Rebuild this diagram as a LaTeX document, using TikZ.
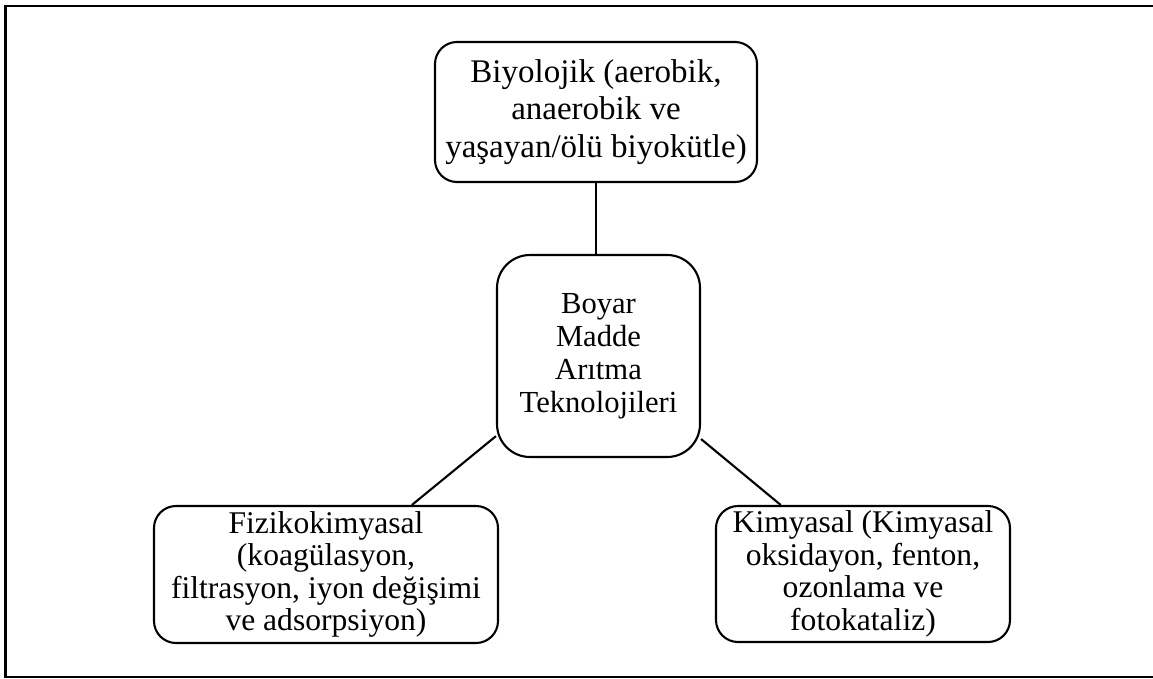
\documentclass[tikz,border=0pt]{standalone}
\usepackage{fontspec}
\setmainfont{Liberation Serif}
\tikzset{
  box/.style={draw=black, line width=2.1pt, rounded corners=22pt, align=center, inner sep=0pt, fill=white},
  conn/.style={draw=black, line width=2.1pt},
}
\begin{document}
\begin{tikzpicture}[x=1pt,y=-1pt]
\useasboundingbox (0,0) rectangle (1153,678);
\fill[white] (0,0) rectangle (1153,678);
\draw[line width=2.2pt] (1153,5.7) -- (5.5,5.7) -- (5.5,676.8) -- (1153,676.8);

\node[box, minimum width=322pt, minimum height=140pt, font=\fontsize{33}{37.5}\selectfont] (top) at (596,112)
  {Biyolojik (aerobik,\\anaerobik ve\\yaşayan/ölü biyokütle)};
\node[box, rounded corners=33pt, minimum width=203pt, minimum height=202pt, font=\fontsize{30.6}{33}\selectfont] (center) at (598.5,356)
  {Boyar\\Madde\\Arıtma\\Teknolojileri};
\node[box, minimum width=344pt, minimum height=137pt, font=\fontsize{31.6}{32.5}\selectfont] (left) at (326,574.5)
  {Fizikokimyasal\\(koagülasyon,\\filtrasyon, iyon değişimi\\ve adsorpsiyon)};
\node[box, minimum width=294pt, minimum height=136pt, font=\fontsize{31.6}{32.5}\selectfont] (right) at (863,574)
  {Kimyasal (Kimyasal\\oksidayon, fenton,\\ozonlama ve\\fotokataliz)};

\draw[conn] (top.south) -- (top.south |- center.north);
\draw[conn] (center.218.6) -- (left.39.6);
\draw[conn] (center.321.1) -- (right.140.3);
\end{tikzpicture}
\end{document}
